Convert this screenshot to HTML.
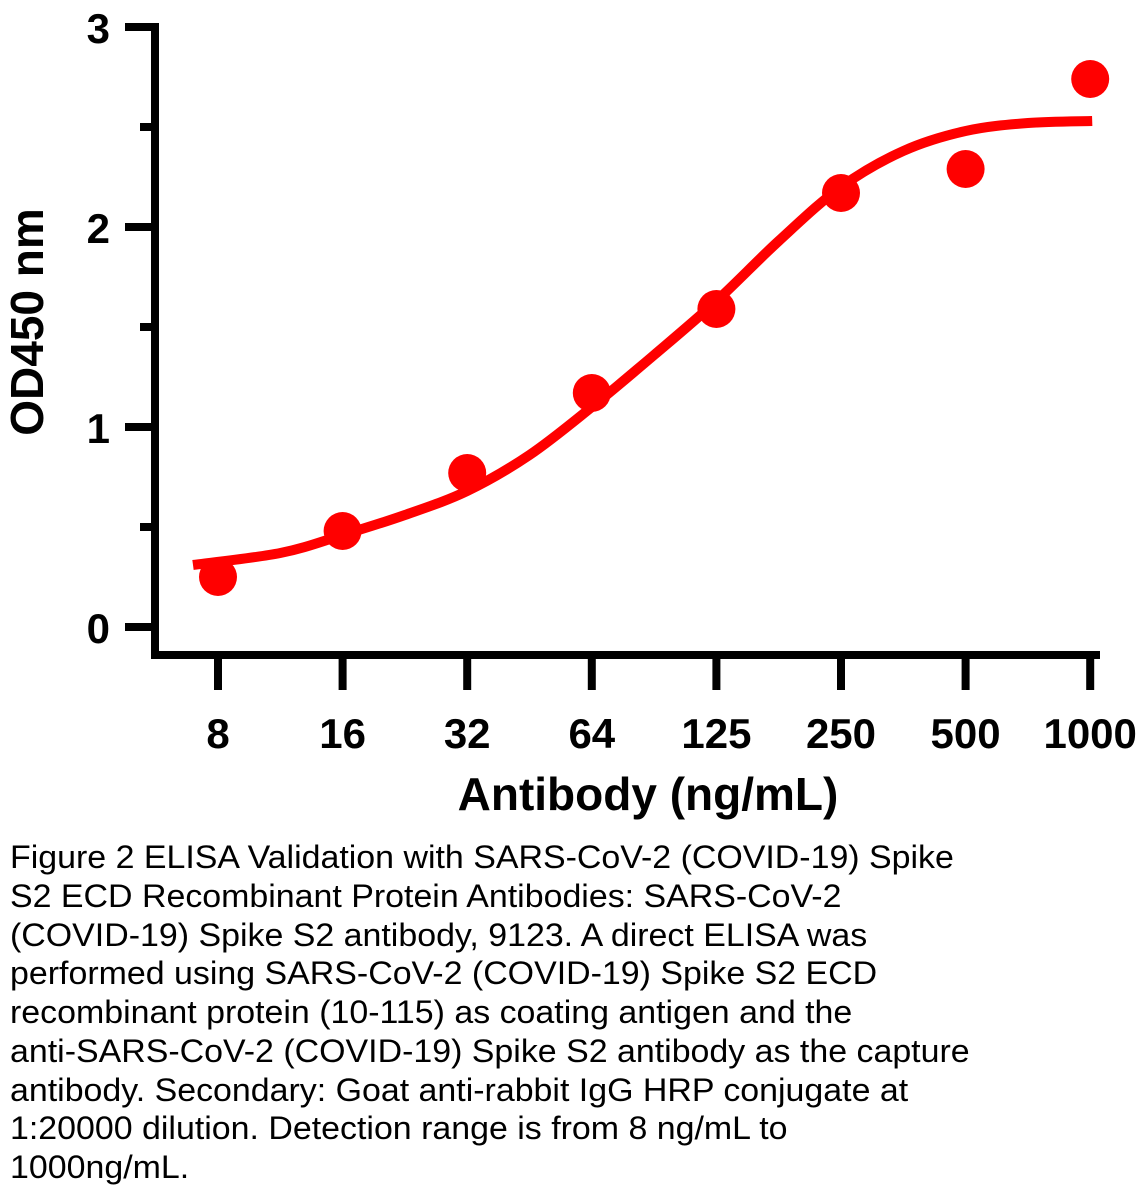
<!DOCTYPE html>
<html><head><meta charset="utf-8"><style>
body{margin:0;background:#fff;width:1148px;height:1200px;overflow:hidden;position:relative;font-family:"Liberation Sans",Arial,sans-serif}
#cap{position:absolute;left:10px;top:838px;font-size:32px;line-height:38.75px;color:#000;white-space:nowrap}
#cap div{transform-origin:0 0;transform:scaleX(1.06)}
</style></head><body>
<svg id="chart" width="1148" height="830" style="position:absolute;left:0;top:0"></svg>
<div id="cap">
<div>Figure 2 ELISA Validation with SARS-CoV-2 (COVID-19) Spike</div>
<div>S2 ECD Recombinant Protein Antibodies: SARS-CoV-2</div>
<div>(COVID-19) Spike S2 antibody, 9123. A direct ELISA was</div>
<div>performed using SARS-CoV-2 (COVID-19) Spike S2 ECD</div>
<div>recombinant protein (10-115) as coating antigen and the</div>
<div>anti-SARS-CoV-2 (COVID-19) Spike S2 antibody as the capture</div>
<div>antibody. Secondary: Goat anti-rabbit IgG HRP conjugate at</div>
<div>1:20000 dilution. Detection range is from 8 ng/mL to</div>
<div>1000ng/mL.</div>
</div>
<script>
const categories=["8","16","32","64","125","250","500","1000"];
const pointValues=[0.25,0.48,0.77,1.17,1.59,2.17,2.29,2.74];
const curvePos=[0,0.5,1,1.5,2,2.5,3,3.5,4,4.5,5,5.5,6,6.5,7];
const curveValues=[0.31,0.37,0.46,0.56,0.68,0.86,1.10,1.36,1.63,1.93,2.20,2.38,2.48,2.52,2.53];
const yTicks=[0,1,2,3];
const yMinor=[0.5,1.5,2.5];
const NS="http://www.w3.org/2000/svg";
const svg=document.getElementById('chart');
const X=i=>218+i*124.6;
const Y=v=>627-v*200;
function el(t,a,p){const e=document.createElementNS(NS,t);for(const k in a)e.setAttribute(k,a[k]);(p||svg).appendChild(e);return e;}
let e;
e=el('line',{x1:155,y1:23,x2:155,y2:659,stroke:'#000','stroke-width':8});


e=el('line',{x1:151,y1:655,x2:1100,y2:655,stroke:'#000','stroke-width':8});


yTicks.forEach(v=>{
 e=el('line',{x1:125,y1:Y(v),x2:155,y2:Y(v),stroke:'#000','stroke-width':8});
 
 
 e=el('text',{x:110,y:Y(v)+16,'text-anchor':'end','font-size':42,'font-weight':'bold'});
 e.textContent=v;
 
 
});
yMinor.forEach(v=>{
 e=el('line',{x1:140,y1:Y(v),x2:155,y2:Y(v),stroke:'#000','stroke-width':8});
 
 
});
categories.forEach((c,i)=>{
 e=el('line',{x1:X(i),y1:655,x2:X(i),y2:690,stroke:'#000','stroke-width':8});
 
 
 e=el('text',{x:X(i),y:748,'text-anchor':'middle','font-size':42,'font-weight':'bold'});
 e.textContent=c;
 
 
});
e=el('text',{x:648,y:810,'text-anchor':'middle','font-size':46,'font-weight':'bold'});
e.textContent='Antibody (ng/mL)';


e=el('text',{x:0,y:0,'text-anchor':'middle','font-size':46,'font-weight':'bold',transform:'translate(43,322) rotate(-90)'});
e.textContent='OD450 nm';


const P=curvePos.map((p,i)=>[X(p),Y(curveValues[i])]);
P[0][0]=X(curvePos[0])-25;
P[P.length-1][0]=X(curvePos[P.length-1])+2;
let d='M'+P[0][0]+','+P[0][1];
for(let i=0;i<P.length-1;i++){
 const p0=P[i-1]||P[i],p1=P[i],p2=P[i+1],p3=P[i+2]||P[i+1];
 d+=` C${p1[0]+(p2[0]-p0[0])/6},${p1[1]+(p2[1]-p0[1])/6} ${p2[0]-(p3[0]-p1[0])/6},${p2[1]-(p3[1]-p1[1])/6} ${p2[0]},${p2[1]}`;
}
e=el('path',{d:d,fill:'none',stroke:'#ff0000','stroke-width':10,'stroke-linecap':'butt'});


pointValues.forEach((v,i)=>{
 e=el('circle',{cx:X(i),cy:Y(v),r:19,fill:'#ff0000'});
 
 
});
</script>
</body></html>
